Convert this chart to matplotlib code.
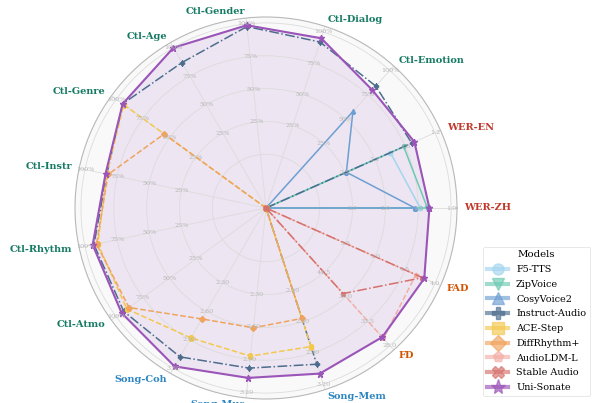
import matplotlib
matplotlib.use("Agg")
import matplotlib.pyplot as plt
from matplotlib.lines import Line2D
import numpy as np

plt.rcParams['font.family'] = 'DejaVu Serif'

# axes of the radar, counter-clockwise from the right
dims = ['WER-ZH', 'WER-EN', 'Ctl-Emotion', 'Ctl-Dialog', 'Ctl-Gender', 'Ctl-Age',
        'Ctl-Genre', 'Ctl-Instr', 'Ctl-Rhythm', 'Ctl-Atmo', 'Song-Coh', 'Song-Mus',
        'Song-Mem', 'FD', 'FAD']
# worst / best value of every axis (worst sits at the inner ring)
worst = [3.0, 3.0, 0, 0, 0, 0, 0, 0, 0, 0, 2.0, 2.0, 2.0, 50.0, 6.0]
best = [1.0, 1.2, 100, 100, 100, 100, 100, 100, 100, 100, 3.2, 3.2, 3.2, 28.0, 4.0]

wer_zh_ticks = ['2.5', '2.0', '1.5', '1.0']
wer_en_ticks = ['2.5', '2.1', '1.6', '1.2']
ctl_ticks = ['25%', '50%', '75%', '100%']
song_ticks = ['2.30', '2.60', '2.90', '3.20']
fd_ticks = ['44.5', '39.0', '33.5', '28.0']
fad_ticks = ['5.5', '5.0', '4.5', '4.0']

N = None
f5_tts = [1.47, 1.87, N, N, N, N, N, N, N, N, N, N, N, N, N]
zipvoice = [1.36, 1.67, N, N, N, N, N, N, N, N, N, N, N, N, N]
cosyvoice2 = [1.55, 2.53, 58, N, N, N, N, N, N, N, N, N, N, N, N]
instruct_audio = [N, 1.55, 84, 92, 98, 87, 94, 83, 93, 93, 3.08, 2.98, 3.01, N, N]
ace_step = [N, N, N, N, N, N, 93, 83, 90, 90, 2.88, 2.87, 2.84, N, N]
diffrhythm = [N, N, N, N, N, N, 55, 82, 91, 88, 2.68, 2.61, 2.57, N, N]
audioldm = [N, N, N, N, N, N, N, N, N, N, N, N, N, 29.6, 4.32]
stable_audio = [N, N, N, N, N, N, N, N, N, N, N, N, N, 39.7, 4.21]
uni_sonate = [1.33, 1.51, 80, 95, 99, 100, 94, 84, 94, 95, 3.18, 3.07, 3.10, 29.9, 4.18]

models = ['F5-TTS', 'ZipVoice', 'CosyVoice2', 'Instruct-Audio', 'ACE-Step',
          'DiffRhythm+', 'AudioLDM-L', 'Stable Audio', 'Uni-Sonate']
series = [f5_tts, zipvoice, cosyvoice2, instruct_audio, ace_step,
          diffrhythm, audioldm, stable_audio, uni_sonate]
colors = ['#a3d5ef', '#6ccab3', '#6e9fd3', '#4d6d8e', '#f4c84e',
          '#f0a35e', '#f3aea6', '#d6706c', '#9b55b8']
markers = ['o', 'v', '^', 'P', 's', 'D', 'p', 'X', '*']
styles = ['-', '-', '-', '-.', '--', '--', '--', '-.', '-']

BASE, SPAN = 0.29, 0.71   # inner ring and range of the scaled axes


def scale(vals):
    out = []
    for v, w, b in zip(vals, worst, best):
        if v is None:
            out.append(0.0)
        else:
            out.append(BASE + SPAN * (v - w) / (b - w))
    return out


n = len(dims)
angles = np.arange(n) * 2 * np.pi / n
closed = np.concatenate([angles, angles[:1]])

fig = plt.figure(figsize=(5.92, 4.03), dpi=100)
ax = fig.add_axes([75 / 592, 4 / 403, 382 / 592, 382 / 403], projection='polar')
ax.set_facecolor('#f9f9f9')
ax.set_ylim(0, 1.032)
ax.set_xticks(angles)
ax.set_xticklabels([])
ax.set_yticks([BASE + SPAN * k / 4 for k in range(5)])
ax.set_yticklabels([])
ax.grid(color='#dcdcdc', lw=0.6)
ax.spines['polar'].set_color('#b8b8b8')
ax.spines['polar'].set_linewidth(0.8)

for name, vals, c, m, ls in zip(models, series, colors, markers, styles):
    r = scale(vals)
    r = r + r[:1]
    main = name == 'Uni-Sonate'
    ax.plot(closed, r, color=c, ls=ls, lw=1.5 if main else 1.1,
            marker=m, ms=5 if main else 3, zorder=4 if main else 3)
    if main:
        ax.fill(closed, r, color=c, alpha=0.12, zorder=1)

# per-axis tick values
tick_sets = [wer_zh_ticks, wer_en_ticks] + [ctl_ticks] * 8 + [song_ticks] * 3 + [fd_ticks, fad_ticks]
for a, labs in zip(angles, tick_sets):
    for k, lab in enumerate(labs):
        ax.text(a, BASE + SPAN * (k + 1) / 4, lab, fontsize=4.6, color='#b5b5b5',
                ha='center', va='center', zorder=5)

# axis names
name_colors = ['#c0392b'] * 2 + ['#157a64'] * 8 + ['#2e86c1'] * 3 + ['#d35400'] * 2
for a, d, c in zip(angles, dims, name_colors):
    cs = np.cos(a)
    ha = 'left' if cs > 0.01 else ('right' if cs < -0.01 else 'center')
    ax.text(a, 1.07, d, fontsize=7.0, fontweight='bold', color=c,
            ha=ha, va='center')

handles = [Line2D([], [], color=c, lw=3, alpha=0.65, marker=m, ms=8 if m != '*' else 11)
           for c, m in zip(colors, markers)]
leg = fig.legend(handles, models, title='Models', loc='lower right',
                 bbox_to_anchor=(590 / 592, 7 / 403), borderaxespad=0,
                 fontsize=6.9, title_fontsize=7.4, frameon=True,
                 handlelength=2.2, labelspacing=0.6)
leg.get_frame().set_edgecolor('#dddddd')
leg.get_frame().set_linewidth(0.6)

fig.savefig('out.png', dpi=100)
